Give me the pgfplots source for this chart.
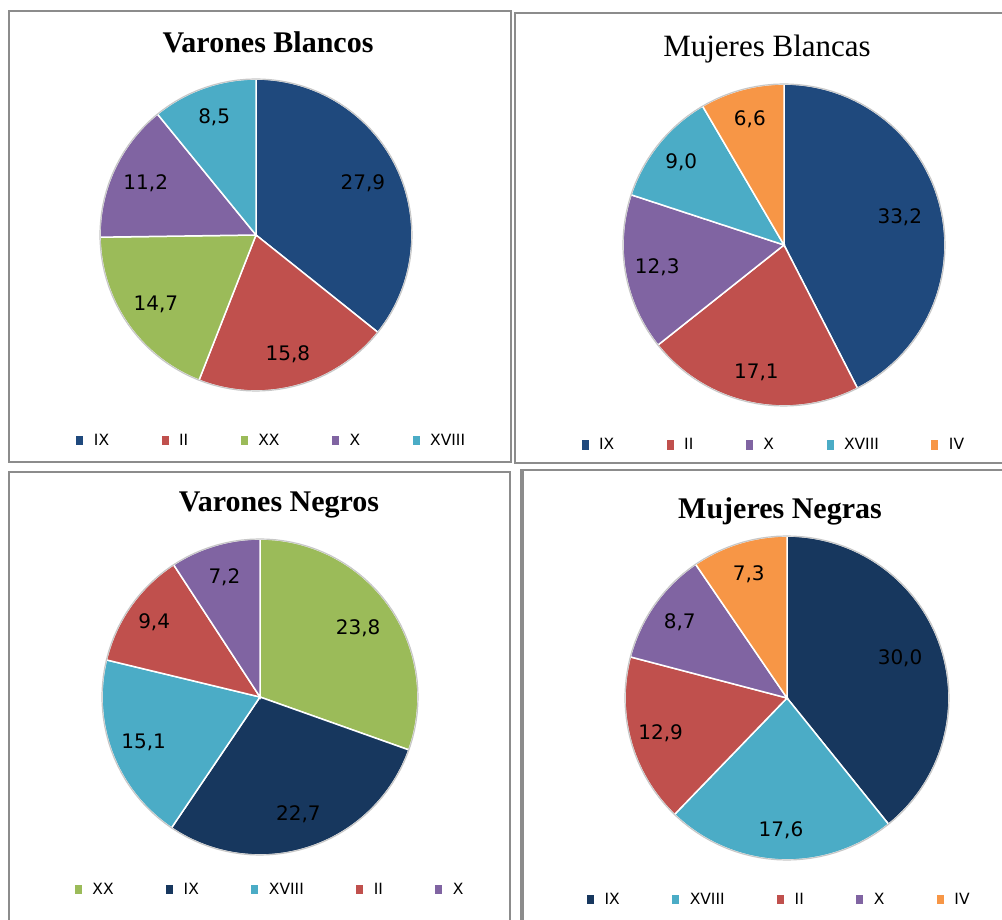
\documentclass[border=0pt]{standalone}
\usepackage{pgfplots}
\pgfplotsset{compat=1.18}
\usepackage{fontspec}
\setmainfont{DejaVu Sans}
\newfontfamily\dejavu{DejaVu Sans}
\newfontfamily\tserif{Liberation Serif}
\newcommand\labfont{\dejavu\fontsize{20pt}{24pt}\selectfont}
\newcommand\legfont{\dejavu\fontsize{15.5pt}{18pt}\selectfont}
\newcommand\titfont{\tserif\bfseries\fontsize{30pt}{36pt}\selectfont}
\newcommand\titfontr{\tserif\fontsize{31pt}{36pt}\selectfont}

\definecolor{cIX}{HTML}{1F497D}
\definecolor{cIXd}{HTML}{17375E}
\definecolor{cII}{HTML}{C0504D}
\definecolor{cXX}{HTML}{9BBB59}
\definecolor{cX}{HTML}{8064A2}
\definecolor{cXVIII}{HTML}{4BACC6}
\definecolor{cIV}{HTML}{F79646}
\definecolor{frame}{HTML}{8C8C8C}

% value / label / colour / legend / label radius
\newcommand\pie[1]{%
  \gdef\tot{0}%
  \foreach \v/\l/\c/\n/\f in {#1}{\pgfmathsetmacro\t{\tot+\v}\xdef\tot{\t}}%
  \gdef\cum{0}%
  \foreach \v/\l/\c/\n/\f in {#1}{%
    \pgfmathsetmacro\aS{90-360*(\cum/\tot)}%
    \pgfmathsetmacro\aE{90-360*((\cum+\v)/\tot)}%
    \pgfmathsetmacro\aM{(\aS+\aE)/2}%
    \pgfmathsetmacro\lx{\f*cos(\aM)}%
    \pgfmathsetmacro\ly{\f*sin(\aM)}%
    \pgfmathsetmacro\t{\cum+\v}\xdef\cum{\t}%
    \edef\tmp{\noexpand\addplot[fill=\c, draw=white, line width=1.5pt, domain=\aE:\aS, samples=60] ({cos(x)},{sin(x)}) -- (axis cs:0,0) -- cycle;
      \noexpand\addlegendentry{\n}
      \noexpand\node[font=\noexpand\labfont, text=black] at (axis cs:\lx,\ly) {\l};}%
    \tmp
  }%
  \addplot[forget plot, draw=black!22, line width=1.2pt, domain=0:360, samples=120] ({cos(x)},{sin(x)});
}

\pgfplotsset{pieax/.style={hide axis, scale only axis, xmin=-1, xmax=1, ymin=-1, ymax=1,
  clip=false, anchor=center, legend columns=5,
  legend style={draw=none, fill=none, font=\legfont, anchor=center,
    nodes={inner sep=0pt},
    /tikz/every odd column/.style={column sep=9pt},
    /tikz/every even column/.style={column sep=51pt}},
  legend image code/.code={\fill (0pt,-5.3pt) rectangle (8.5pt,5.3pt);}}}

\begin{document}
\begin{tikzpicture}[x=1pt,y=1pt]
\path[use as bounding box] (0,0) rectangle (1002,919);
% frames
\draw[frame, line width=2pt] (9,908) rectangle (511,457);
\draw[frame, line width=2pt] (515,906) rectangle (1012,456);
\draw[frame, line width=2pt] (9,447) rectangle (510,-12);
\draw[frame, line width=2.6pt] (521,449) rectangle (1012,-12);
\draw[frame, line width=2pt] (522.5,449) -- (522.5,-12);

% titles
\node[font=\titfont, anchor=base] at (268,866) {Varones Blancos};
\node[font=\titfontr, anchor=base] at (767,862) {Mujeres Blancas};
\node[font=\titfont, anchor=base] at (279,407) {Varones Negros};
\node[font=\titfont, anchor=base] at (780,400) {Mujeres Negras};

\begin{axis}[pieax, at={(256pt,684pt)}, width=312pt, height=312pt,
  legend style={at={(axis description cs:0.545,-0.160)}}]
\pie{27.9/{27,9}/cIX/IX/0.76, 15.8/{15,8}/cII/II/0.79, 14.7/{14,7}/cXX/XX/0.78, 11.2/{11,2}/cX/X/0.78, 8.5/{8,5}/cXVIII/XVIII/0.80}
\end{axis}

\begin{axis}[pieax, at={(784pt,674pt)}, width=322pt, height=322pt,
  legend style={at={(axis description cs:0.463,-0.121)}}]
\pie{33.2/{33,2}/cIX/IX/0.74, 17.1/{17,1}/cII/II/0.81, 12.3/{12,3}/cX/X/0.80, 9.0/{9,0}/cXVIII/XVIII/0.82, 6.6/{6,6}/cIV/IV/0.81}
\end{axis}

\begin{axis}[pieax, at={(260pt,222pt)}, width=316pt, height=316pt,
  legend style={at={(axis description cs:0.527,-0.110)}}]
\pie{23.8/{23,8}/cXX/XX/0.76, 22.7/{22,7}/cIXd/IX/0.78, 15.1/{15,1}/cXVIII/XVIII/0.79, 9.4/{9,4}/cII/II/0.82, 7.2/{7,2}/cX/X/0.79}
\end{axis}

\begin{axis}[pieax, at={(787pt,221pt)}, width=324pt, height=324pt,
  legend style={at={(axis description cs:0.471,-0.123)}}]
\pie{30.0/{30,0}/cIXd/IX/0.74, 17.6/{17,6}/cXVIII/XVIII/0.82, 12.9/{12,9}/cII/II/0.81, 8.7/{8,7}/cX/X/0.81, 7.3/{7,3}/cIV/IV/0.80}
\end{axis}
\end{tikzpicture}
\end{document}
